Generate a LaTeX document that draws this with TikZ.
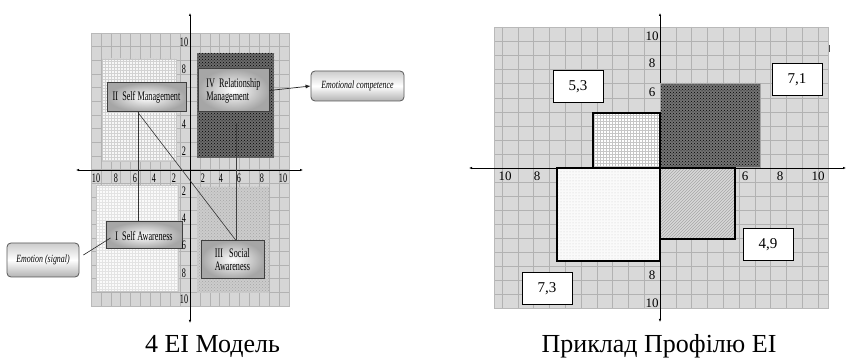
\documentclass[tikz,border=0pt]{standalone}
\usepackage{fontspec}
\setmainfont{Liberation Serif}
\usetikzlibrary{patterns,arrows.meta}
\newcommand{\sq}[1]{\scalebox{0.63}[1]{#1}}
\begin{document}
\begin{tikzpicture}[x=1pt,y=-1pt,
  gbox/.style={draw=black!75, line width=1pt, inner color=white, outer color=gray!70, inner sep=0pt, font=\fontsize{13}{14}\selectfont},
  rbox/.style={draw=black!65, line width=0.8pt, rounded corners=4pt, top color=gray!40, bottom color=gray!60, middle color=white, inner sep=0pt, font=\fontsize{11}{12}\selectfont\itshape},
  vbox/.style={draw=black, line width=1pt, fill=white, minimum width=50pt, minimum height=32pt, inner sep=0pt, font=\fontsize{15}{15}\selectfont},
  axl/.style={inner sep=0pt, font=\fontsize{13}{13}\selectfont},
  axisline/.style={line width=0.6pt, {Latex[length=3pt,width=2.5pt]}-{Latex[length=3pt,width=2.5pt]}},
  gridline/.style={gray!60, line width=0.45pt},
  thickrect/.style={draw=black, line width=1.4pt},
  captext/.style={anchor=base, inner sep=0pt, font=\fontsize{26}{26}\selectfont}
]
\useasboundingbox (0,0) rectangle (847,358);
\fill[white] (0,0) rectangle (847,358);

% ================= LEFT DIAGRAM =================
\fill[gray!32] (91,33) rectangle (289,306);
\begin{scope}
\clip (91,33) rectangle (289,306);
\foreach \i in {0,...,20} {
  \draw[gridline] (91+\i*9.9,33) -- (91+\i*9.9,306);
  \draw[gridline] (91,33+\i*13.65) -- (289,33+\i*13.65);
}
\end{scope}
\draw[gray!55, line width=0.5pt] (91,33) rectangle (289,306);

% quadrant areas
\fill[gray!6, postaction={pattern=grid, pattern color=gray!35}] (102,59) rectangle (176,161);
\draw[gray!45, line width=0.4pt] (102,59) rectangle (176,161);
\fill[black!58, postaction={pattern=crosshatch dots, pattern color=black}] (197,53) rectangle (274,158);
\fill[gray!4, postaction={pattern=grid, pattern color=gray!22}] (96,185) rectangle (178,291);
\draw[gray!45, line width=0.4pt] (96,185) rectangle (178,291);
\fill[gray!40, postaction={pattern=crosshatch dots, pattern color=gray!70}] (197,187) rectangle (269,293);

% axes
\coordinate (lT) at (190,13);
\coordinate (lB) at (190,323);
\coordinate (lL) at (76,170);
\coordinate (lR) at (303,170);
\draw[axisline] (lT) -- (lB);
\draw[axisline] (lL) -- (lR);

% axis labels
\foreach \x/\t [count=\k] in {96/10,116/8,135/6,154/4,174/2,203/2,221/4,239/6,262/8,283/10}
  \node[axl] (lh\k) at (\x,178) {\sq{\t}};
\foreach \y/\t [count=\k] in {42/10,69/8,124/4,151/2,191/2,218/4,273/8,299/10}
  \node[axl] (lv\k) at (184,\y) {\sq{\t}};

% connector anchors
\coordinate (lx) at (138,0);
\coordinate (rx) at (236,0);

% boxes
\node[gbox, minimum width=79pt, minimum height=29pt] (sm) at (146.5,97.5) {\sq{II\ \ Self Management}};
\node[gbox, minimum width=71pt, minimum height=43pt, align=left] (rm) at (233.5,90.5) {\sq{IV\ \ Relationship}\\[-1pt]\sq{Management}};
\node[gbox, minimum width=76pt, minimum height=27pt] (sa) at (144,235.5) {\sq{I\ \ Self Awareness}};
\node[gbox, minimum width=63pt, minimum height=38pt, align=left] (soc) at (232.5,260) {\sq{III\ \ \ Social}\\[-1pt]\sq{Awareness}};
\node[rbox, minimum width=93pt, minimum height=30pt] (ec) at (357.5,86) {\scalebox{0.72}[1]{Emotional competence}};
\node[rbox, minimum width=72pt, minimum height=34pt] (es) at (43,260) {\scalebox{0.72}[1]{Emotion (signal)}};
\node[axl] (lv6) at (184,245) {\sq{6}};

% connectors
\draw[black!80, line width=0.6pt] (sm.south -| lx) -- (sa.north -| lx);
\draw[black!80, line width=0.6pt] (sm.south -| lx) -- (soc.north -| rx);
\draw[black!75, line width=0.6pt] ([yshift=-11pt]rm.south -| rx) -- (soc.north -| rx);
\draw[black!85, line width=0.7pt, -{Latex[length=5pt,width=4pt]}] (rm.east) -- (ec.west);
\draw[black!85, line width=0.6pt] ([xshift=4pt,yshift=5pt]es.east) -- ([xshift=5pt,yshift=-2.5pt]sa.west);

\node[captext] (capL) at (212.5,353) {4 EI Модель};

% ================= RIGHT DIAGRAM =================
\fill[gray!30] (494,27) rectangle (828,308);
\begin{scope}
\clip (494,27) rectangle (828,308);
\foreach \k in {-11,...,11} {
  \draw[gridline] (660+\k*15.8,27) -- (660+\k*15.8,308);
  \draw[gridline] (494,168+\k*14.05) -- (828,168+\k*14.05);
}
\end{scope}
\draw[gray!55, line width=0.5pt] (494,27) rectangle (828,308);

% axes
\coordinate (rT) at (660,13);
\coordinate (rB) at (660,322);
\coordinate (rL) at (469,168);
\coordinate (rR) at (846,168);
\draw[axisline] (rT) -- (rB);
\draw[axisline] (rL) -- (rR);

% profile rectangles
\fill[black!55, postaction={pattern=crosshatch dots, pattern color=black}] (660,83) rectangle (760,167);
\draw[gray!70, line width=0.8pt] (660,83) rectangle (760,167);
\fill[white, postaction={pattern=grid, pattern color=gray!45}] (593,113) rectangle (660,168);
\draw[thickrect] (593,168) -- (593,113) -- (660,113) -- (660,168);
\fill[gray!30, postaction={pattern=north east lines, pattern color=gray!70}] (660,168) rectangle (735,239);
\draw[thickrect] (660,168) rectangle (735,239);
\fill[gray!4, postaction={pattern=dots, pattern color=gray!40}] (557,168) rectangle (660,261);
\draw[thickrect] (557,168) rectangle (660,261);

% axis labels
\foreach \x/\t [count=\k] in {505/10,537/8,745/6,780/8,818/10}
  \node[axl] (rh\k) at (\x,176) {\t};
\foreach \y/\t [count=\k] in {36/10,63/8,92/6,275/8,303/10}
  \node[axl] (rv\k) at (652,\y) {\t};

% value boxes
\node[vbox] (v53) at (578,87) {5,3};
\node[vbox] (v71) at (797,80) {7,1};
\node[vbox] (v49) at (768,245) {4,9};
\node[vbox] (v73) at (547,289) {7,3};

\coordinate (m1) at (829.5,45);
\coordinate (m2) at (829.5,52);
\draw[black!70, line width=0.8pt] (m1) -- (m2);

\node[captext] (capR) at (659,353) {Приклад Профілю EI};
\end{tikzpicture}
\end{document}
